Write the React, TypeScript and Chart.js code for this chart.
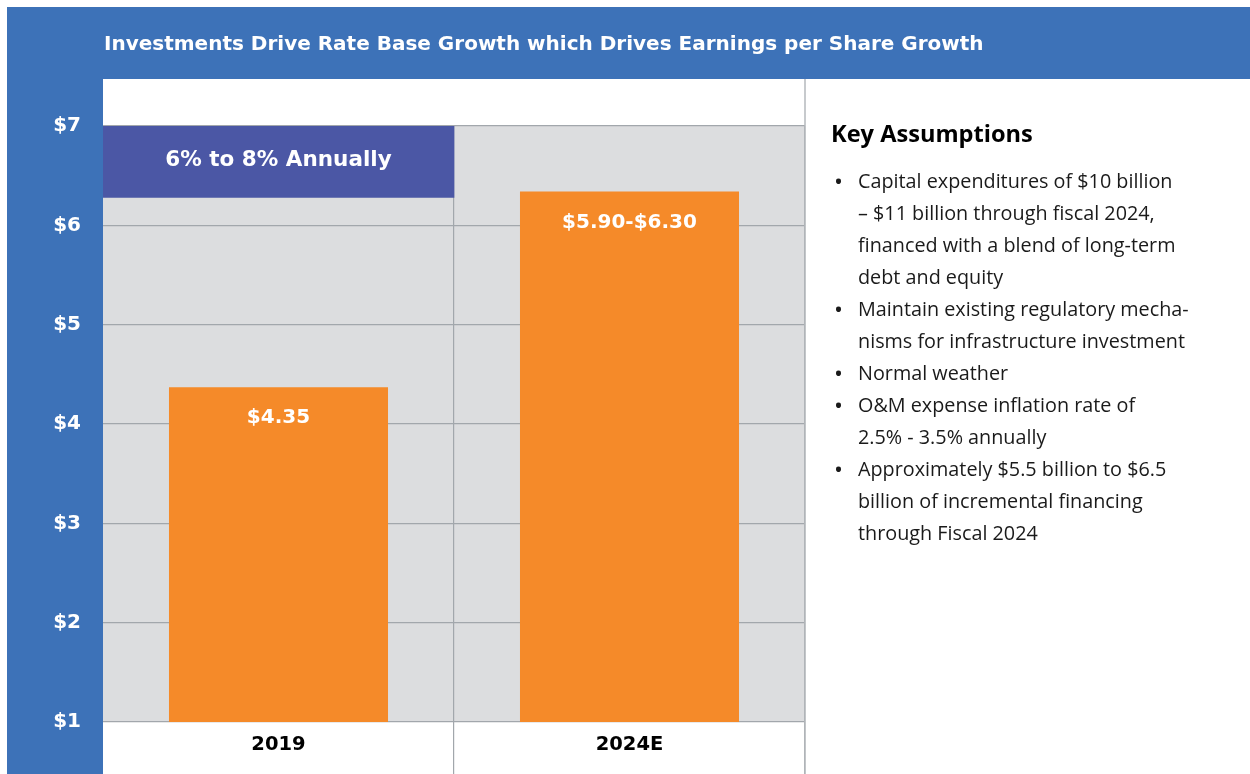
import React, { useEffect, useRef } from 'react';
import { Chart, registerables } from 'chart.js';

Chart.register(...registerables);

// ---- data ----
const categories = ['2019', '2024E'];
const epsValues = [4.37, 6.34];
const epsLabels = ['$4.35', '$5.90-$6.30'];
const growthRange: ([number, number] | null)[] = [[6.28, 7], null];
const growthLabel = '6% to 8% Annually';
const yMin = 1;
const yMax = 7;
const yStep = 1;
const titleText = 'Investments Drive Rate Base Growth which Drives Earnings per Share Growth';
const assumptionsTitle = 'Key Assumptions';
const assumptions: string[][] = [
  ['Capital expenditures of $10 billion', '– $11 billion through fiscal 2024,', 'financed with a blend of long-term', 'debt and equity'],
  ['Maintain existing regulatory mecha-', 'nisms for infrastructure investment'],
  ['Normal weather'],
  ['O&M expense inflation rate of', '2.5% - 3.5% annually'],
  ['Approximately $5.5 billion to $6.5', 'billion of incremental financing', 'through Fiscal 2024'],
];

// ---- style ----
const FONT = '"Open Sans", "DejaVu Sans", sans-serif';
const BOLD = '"DejaVu Sans", "Open Sans", sans-serif';
const BLUE = '#3D72B8';
const PURPLE = '#4B57A5';
const ORANGE = '#F58A29';
const PLOT_BG = '#DCDDDF';
const GRID = '#A2A7AC';
const W = 1243;
const H = 767;

const framePlugin = {
  id: 'frame',
  beforeDraw(chart: any) {
    const { ctx, chartArea } = chart;
    ctx.save();
    ctx.fillStyle = BLUE;
    ctx.fillRect(0, 0, W, 72);
    ctx.fillRect(0, 0, chartArea.left, H);
    ctx.fillStyle = PLOT_BG;
    ctx.fillRect(chartArea.left, chartArea.top, chartArea.right - chartArea.left, chartArea.bottom - chartArea.top);
    ctx.restore();
  },
  afterDraw(chart: any) {
    const { ctx, chartArea } = chart;
    ctx.save();
    ctx.strokeStyle = '#B4B8BC';
    ctx.lineWidth = 1.5;
    ctx.beginPath();
    ctx.moveTo(chartArea.right, 72);
    ctx.lineTo(chartArea.right, H);
    ctx.stroke();
    // chart title in the blue banner
    ctx.fillStyle = '#FFFFFF';
    ctx.textAlign = 'left';
    ctx.textBaseline = 'middle';
    ctx.font = `bold 20px ${BOLD}`;
    ctx.fillText(titleText, chartArea.left + 1, 38);
    ctx.restore();
  },
};

const labelPlugin = {
  id: 'barLabels',
  afterDatasetsDraw(chart: any) {
    const { ctx } = chart;
    ctx.save();
    ctx.fillStyle = '#FFFFFF';
    ctx.textAlign = 'center';
    ctx.textBaseline = 'middle';
    ctx.font = `bold 20px ${BOLD}`;
    chart.getDatasetMeta(0).data.forEach((bar: any, i: number) => {
      ctx.fillText(epsLabels[i], bar.x, bar.y + 31);
    });
    ctx.font = `bold 21.5px ${BOLD}`;
    chart.getDatasetMeta(1).data.forEach((bar: any, i: number) => {
      if (growthRange[i]) {
        ctx.fillText(growthLabel, bar.x, (bar.y + bar.base) / 2 - 1);
      }
    });
    ctx.restore();
  },
};

function EpsChart() {
  const ref = useRef<HTMLCanvasElement | null>(null);
  useEffect(() => {
    if (!ref.current) return;
    const chart = new Chart(ref.current, {
      type: 'bar',
      data: {
        labels: categories,
        datasets: [
          {
            data: epsValues,
            backgroundColor: ORANGE,
            barPercentage: 0.624,
            categoryPercentage: 1,
            grouped: false,
          } as any,
          {
            data: growthRange as any,
            backgroundColor: PURPLE,
            barPercentage: 1,
            categoryPercentage: 1,
            grouped: false,
          } as any,
        ],
      },
      options: {
        responsive: false,
        maintainAspectRatio: false,
        animation: false,
        layout: { padding: { left: 0, right: 445, top: 119, bottom: 0 } },
        plugins: {
          legend: { display: false },
          tooltip: { enabled: false },
          title: { display: false },
        },
        scales: {
          x: {
            offset: true,
            grid: {
              offset: true,
              color: (c: any) => (c.index === 0 ? 'rgba(0,0,0,0)' : GRID),
              lineWidth: 1.2,
              drawTicks: true,
              tickLength: 52,
            },
            border: { display: false },
            ticks: {
              color: '#000000',
              font: { family: BOLD, size: 19.5, weight: 'bold' },
              padding: -41,
            },
            afterFit: (s: any) => {
              s.height = 52;
            },
          } as any,
          y: {
            min: yMin,
            max: yMax,
            ticks: {
              stepSize: yStep,
              callback: (v: any) => '$' + v,
              color: '#FFFFFF',
              font: { family: BOLD, size: 20, weight: 'bold' },
              padding: 22,
            },
            grid: { color: GRID, lineWidth: 1.2, drawTicks: false },
            border: { display: false },
            afterFit: (s: any) => {
              s.width = 96;
            },
          } as any,
        },
      },
      plugins: [framePlugin, labelPlugin],
    });
    return () => chart.destroy();
  }, []);
  return <canvas ref={ref} width={W} height={H} style={{ width: W, height: H, display: 'block' }} />;
}

export default function App() {
  return (
    <div
      style={{
        position: 'absolute',
        left: 7,
        top: 7,
        width: W,
        height: H,
        background: '#FFFFFF',
        overflow: 'hidden',
      }}
    >
      <EpsChart />
      <div
        style={{
          position: 'absolute',
          left: 824,
          top: 110,
          fontFamily: FONT,
          fontWeight: 700,
          fontSize: 23.6,
          lineHeight: '32px',
          color: '#000',
          whiteSpace: 'nowrap',
        }}
      >
        {assumptionsTitle}
      </div>
      <div
        style={{
          position: 'absolute',
          left: 822,
          top: 158,
          fontFamily: FONT,
          fontSize: 19.8,
          lineHeight: '32px',
          color: '#1A1A1A',
        }}
      >
        {assumptions.map((lines, i) => (
          <div key={i} style={{ position: 'relative', paddingLeft: 29 }}>
            <span style={{ position: 'absolute', left: 5, top: 0, fontSize: 24 }}>•</span>
            {lines.map((l, j) => (
              <div key={j} style={{ whiteSpace: 'nowrap' }}>
                {l}
              </div>
            ))}
          </div>
        ))}
      </div>
    </div>
  );
}
